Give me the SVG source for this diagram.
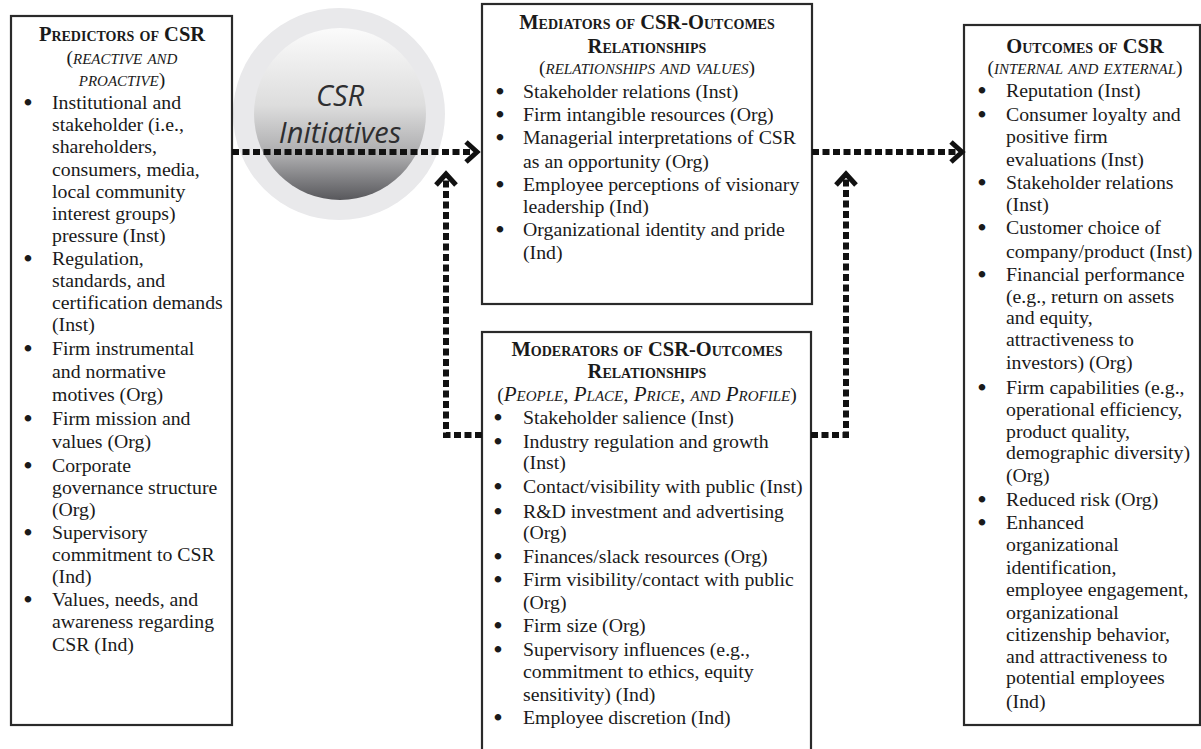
<svg xmlns="http://www.w3.org/2000/svg" width="1201" height="749" viewBox="0 0 1201 749">
<style>
.box{fill:#fff;stroke:#2a2a2a;stroke-width:2.2}
.t{font-family:"Liberation Serif","Times New Roman",serif;font-size:19.8px;fill:#1a1a1a}
.b{stroke:#1a1a1a;stroke-width:1.8px}
.h{font-family:"Liberation Serif","Times New Roman",serif;font-size:20.5px;font-weight:bold;font-variant:small-caps;fill:#1a1a1a;text-anchor:middle}
.s{font-family:"Liberation Serif","Times New Roman",serif;font-size:19.5px;fill:#1a1a1a;text-anchor:middle}
.si{font-style:italic;font-variant:small-caps;font-size:21px}
.c{font-family:"Open Sans","Liberation Sans",sans-serif;font-style:italic;font-size:29px;fill:#2e2e30;text-anchor:middle}
.con{fill:none;stroke:#111;stroke-width:6;stroke-dasharray:7 3.5;marker-end:url(#chev)}
</style>
<defs>
<linearGradient id="g" x1="0" y1="0" x2="0" y2="1">
<stop offset="0" stop-color="#fbfbfb"/>
<stop offset="0.45" stop-color="#dddddd"/>
<stop offset="0.75" stop-color="#a9a9ab"/>
<stop offset="1" stop-color="#58585c"/>
</linearGradient>
<marker id="chev" markerUnits="userSpaceOnUse" viewBox="-14 -14 28 28" refX="0" refY="0" markerWidth="28" markerHeight="28" orient="auto" overflow="visible">
<path d="M-7,-10 L4,0 L-7,10" fill="none" stroke="#111" stroke-width="5" stroke-linejoin="miter"/>
</marker>
</defs>
<rect width="1201" height="749" fill="#fff"/>

<g id="csr-initiatives">
<circle cx="339" cy="114" r="106" fill="#e9e9eb"/>
<circle cx="340" cy="114" r="86" fill="url(#g)"/>
<text class="c" x="340" y="106">CSR</text>
<text class="c" x="340" y="143">Initiatives</text>
</g>

<g id="predictors">
<rect class="box" x="11" y="16" width="221" height="709"/>
<text class="h" x="122" y="41">Predictors of CSR</text>
<text class="s" x="122" y="64">(<tspan class="si">reactive and</tspan></text>
<text class="s" x="122" y="86"><tspan class="si">proactive</tspan>)</text>
<g class="t">
<text class="b" x="24.5" y="109">•</text><text x="52" y="109">Institutional and</text>
<text x="52" y="131">stakeholder (i.e.,</text>
<text x="52" y="153">shareholders,</text>
<text x="52" y="176">consumers, media,</text>
<text x="52" y="198">local community</text>
<text x="52" y="220">interest groups)</text>
<text x="52" y="242">pressure (Inst)</text>
<text class="b" x="24.5" y="265">•</text><text x="52" y="265">Regulation,</text>
<text x="52" y="287">standards, and</text>
<text x="52" y="309">certification demands</text>
<text x="52" y="331">(Inst)</text>
<text class="b" x="24.5" y="355">•</text><text x="52" y="355">Firm instrumental</text>
<text x="52" y="378">and normative</text>
<text x="52" y="401">motives (Org)</text>
<text class="b" x="24.5" y="425">•</text><text x="52" y="425">Firm mission and</text>
<text x="52" y="448">values (Org)</text>
<text class="b" x="24.5" y="472">•</text><text x="52" y="472">Corporate</text>
<text x="52" y="494">governance structure</text>
<text x="52" y="516">(Org)</text>
<text class="b" x="24.5" y="539">•</text><text x="52" y="539">Supervisory</text>
<text x="52" y="561">commitment to CSR</text>
<text x="52" y="583">(Ind)</text>
<text class="b" x="24.5" y="606">•</text><text x="52" y="606">Values, needs, and</text>
<text x="52" y="628">awareness regarding</text>
<text x="52" y="651">CSR (Ind)</text>
</g>
</g>

<g id="mediators">
<rect class="box" x="482" y="4" width="330" height="300"/>
<text class="h" x="647" y="29">Mediators of CSR-Outcomes</text>
<text class="h" x="647" y="53">Relationships</text>
<text class="s" x="647" y="74">(<tspan class="si">relationships and values</tspan>)</text>
<g class="t">
<text class="b" x="496.5" y="98">•</text><text x="523" y="98">Stakeholder relations (Inst)</text>
<text class="b" x="496.5" y="121">•</text><text x="523" y="121">Firm intangible resources (Org)</text>
<text class="b" x="496.5" y="144">•</text><text x="523" y="144">Managerial interpretations of CSR</text>
<text x="523" y="168">as an opportunity (Org)</text>
<text class="b" x="496.5" y="191">•</text><text x="523" y="191">Employee perceptions of visionary</text>
<text x="523" y="213">leadership (Ind)</text>
<text class="b" x="496.5" y="236">•</text><text x="523" y="236">Organizational identity and pride</text>
<text x="523" y="259">(Ind)</text>
</g>
</g>

<g id="moderators">
<rect class="box" x="482" y="332" width="329" height="430"/>
<text class="h" x="647" y="356">Moderators of CSR-Outcomes</text>
<text class="h" x="647" y="378">Relationships</text>
<text class="s" x="647" y="401">(<tspan class="si">People, Place, Price, and Profile</tspan>)</text>
<g class="t">
<text class="b" x="494.5" y="424">•</text><text x="523" y="424">Stakeholder salience (Inst)</text>
<text class="b" x="494.5" y="448">•</text><text x="523" y="448">Industry regulation and growth</text>
<text x="523" y="469">(Inst)</text>
<text class="b" x="494.5" y="493">•</text><text x="523" y="493">Contact/visibility with public (Inst)</text>
<text class="b" x="494.5" y="518">•</text><text x="523" y="518">R&amp;D investment and advertising</text>
<text x="523" y="539">(Org)</text>
<text class="b" x="494.5" y="563">•</text><text x="523" y="563">Finances/slack resources (Org)</text>
<text class="b" x="494.5" y="586">•</text><text x="523" y="586">Firm visibility/contact with public</text>
<text x="523" y="609">(Org)</text>
<text class="b" x="494.5" y="632">•</text><text x="523" y="632">Firm size (Org)</text>
<text class="b" x="494.5" y="656">•</text><text x="523" y="656">Supervisory influences (e.g.,</text>
<text x="523" y="678">commitment to ethics, equity</text>
<text x="523" y="701">sensitivity) (Ind)</text>
<text class="b" x="494.5" y="724">•</text><text x="523" y="724">Employee discretion (Ind)</text>
</g>
</g>

<g id="outcomes">
<rect class="box" x="964" y="25" width="236" height="700"/>
<text class="h" x="1085" y="53">Outcomes of CSR</text>
<text class="s" x="1085" y="74">(<tspan class="si">internal and external</tspan>)</text>
<g class="t">
<text class="b" x="978.5" y="97">•</text><text x="1006" y="97">Reputation (Inst)</text>
<text class="b" x="978.5" y="121">•</text><text x="1006" y="121">Consumer loyalty and</text>
<text x="1006" y="143">positive firm</text>
<text x="1006" y="166">evaluations (Inst)</text>
<text class="b" x="978.5" y="189">•</text><text x="1006" y="189">Stakeholder relations</text>
<text x="1006" y="211">(Inst)</text>
<text class="b" x="978.5" y="234">•</text><text x="1006" y="234">Customer choice of</text>
<text x="1006" y="258">company/product (Inst)</text>
<text class="b" x="978.5" y="281">•</text><text x="1006" y="281">Financial performance</text>
<text x="1006" y="303">(e.g., return on assets</text>
<text x="1006" y="324">and equity,</text>
<text x="1006" y="346">attractiveness to</text>
<text x="1006" y="369">investors) (Org)</text>
<text class="b" x="978.5" y="394">•</text><text x="1006" y="394">Firm capabilities (e.g.,</text>
<text x="1006" y="416">operational efficiency,</text>
<text x="1006" y="438">product quality,</text>
<text x="1006" y="459">demographic diversity)</text>
<text x="1006" y="482">(Org)</text>
<text class="b" x="978.5" y="506">•</text><text x="1006" y="506">Reduced risk (Org)</text>
<text class="b" x="978.5" y="529">•</text><text x="1006" y="529">Enhanced</text>
<text x="1006" y="551">organizational</text>
<text x="1006" y="574">identification,</text>
<text x="1006" y="596">employee engagement,</text>
<text x="1006" y="619">organizational</text>
<text x="1006" y="641">citizenship behavior,</text>
<text x="1006" y="663">and attractiveness to</text>
<text x="1006" y="684">potential employees</text>
<text x="1006" y="708">(Ind)</text>
</g>
</g>

<g id="connectors">
<path class="con" d="M232,152 H473"/>
<path class="con" d="M812,152 H958"/>
<path class="con" d="M482,435 H446 V178"/>
<path class="con" d="M811,435 H846 V178"/>
</g>
</svg>
